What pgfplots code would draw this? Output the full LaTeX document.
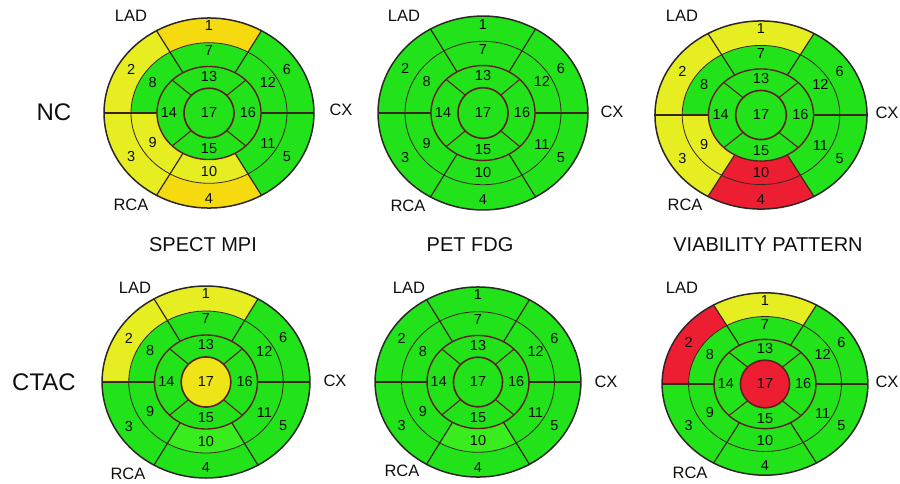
\documentclass[border=0pt]{standalone}
\usepackage{pgfplots}
\pgfplotsset{compat=1.18}
\usepackage{fontspec}
\setmainfont{Liberation Sans}

% status colours: 0 normal, 1 mild (lime yellow), 2 moderate (gold), 3 severe/scar (red), 4 light green, 5 yellow-gold
\definecolor{st0}{RGB}{34,226,26}
\definecolor{st1}{RGB}{230,238,34}
\definecolor{st2}{RGB}{244,218,14}
\definecolor{st3}{RGB}{238,30,50}
\definecolor{st4}{RGB}{56,236,30}
\definecolor{st5}{RGB}{238,228,24}
\definecolor{olin}{RGB}{45,38,38}
\definecolor{rlin}{RGB}{96,30,32}
\definecolor{tlin}{RGB}{58,36,30}
\definecolor{txt}{RGB}{15,15,12}

\newcommand{\setA}[9]{\colorlet{#1s1}{st#2}\colorlet{#1s2}{st#3}\colorlet{#1s3}{st#4}\colorlet{#1s4}{st#5}\colorlet{#1s5}{st#6}\colorlet{#1s6}{st#7}\colorlet{#1s7}{st#8}\colorlet{#1s8}{st#9}}
\newcommand{\setB}[9]{\colorlet{#1s9}{st#2}\colorlet{#1s10}{st#3}\colorlet{#1s11}{st#4}\colorlet{#1s12}{st#5}\colorlet{#1s13}{st#6}\colorlet{#1s14}{st#7}\colorlet{#1s15}{st#8}\colorlet{#1s16}{st#9}}
\newcommand{\setC}[2]{\colorlet{#1s17}{st#2}}

% segment status per polar map (segments 1..17)
\setA{TL}{2}{1}{1}{2}{0}{0}{0}{0}
\setB{TL}{1}{1}{0}{0}{0}{0}{0}{0}
\setC{TL}{0}
\setA{TM}{0}{0}{0}{0}{0}{0}{0}{0}
\setB{TM}{0}{0}{0}{0}{0}{0}{0}{0}
\setC{TM}{0}
\setA{TR}{1}{1}{1}{3}{0}{0}{0}{0}
\setB{TR}{1}{3}{0}{0}{0}{0}{0}{0}
\setC{TR}{0}
\setA{BL}{1}{1}{0}{0}{0}{0}{0}{0}
\setB{BL}{0}{4}{0}{0}{0}{0}{0}{0}
\setC{BL}{5}
\setA{BM}{0}{0}{0}{0}{0}{0}{0}{0}
\setB{BM}{0}{4}{0}{0}{0}{0}{0}{0}
\setC{BM}{0}
\setA{BR}{1}{3}{0}{0}{0}{0}{0}{0}
\setB{BR}{0}{0}{0}{0}{0}{0}{0}{0}
\setC{BR}{3}

% annular sector: cx cy rxo ryo rxi ryi a1 a2 colour
\newcommand{\seg}[9]{%
\addplot[fill=#9, draw=none, domain=0:40, samples=41, variable=\s]
 ({#1 + ((\s<20.5)*(#3) + (\s>20.5)*(#5))*cos((\s<20.5)*((#7)+\s*((#8)-(#7))/20) + (\s>20.5)*((#8)-(\s-21)*((#8)-(#7))/19))},
  {#2 - ((\s<20.5)*(#4) + (\s>20.5)*(#6))*sin((\s<20.5)*((#7)+\s*((#8)-(#7))/20) + (\s>20.5)*((#8)-(\s-21)*((#8)-(#7))/19))});
}
% ellipse outline: cx cy rx ry style
\newcommand{\ellp}[5]{%
\addplot[#5, domain=0:360, samples=121] ({#1+(#3)*cos(x)},{#2-(#4)*sin(x)});
}
% radial line: cx cy rxi ryi rxo ryo angle style
\newcommand{\rad}[8]{%
\addplot[#8, domain=0:1, samples=2] ({#1+((#3)+x*((#5)-(#3)))*cos(#7)},{#2-((#4)+x*((#6)-(#4)))*sin(#7)});
}
% segment number: cx cy sx sy rx ry angle text
\newcommand{\lab}[8]{%
\node[font=\fontsize{14.5}{14.5}\selectfont, text=txt, inner sep=0pt] at (axis cs:{#1+(#5)*(#3)*cos(#7)},{#2-(#6)*(#4)*sin(#7)}) {#8};
}

% polar map: cx cy sx sy prefix
\newcommand{\bullseye}[5]{%
 \seg{#1}{#2}{105*#3}{96*#4}{78*#3}{71*#4}{60}{120}{#5s1}
 \seg{#1}{#2}{105*#3}{96*#4}{78*#3}{71*#4}{120}{180}{#5s2}
 \seg{#1}{#2}{105*#3}{96*#4}{78*#3}{71*#4}{180}{240}{#5s3}
 \seg{#1}{#2}{105*#3}{96*#4}{78*#3}{71*#4}{240}{300}{#5s4}
 \seg{#1}{#2}{105*#3}{96*#4}{78*#3}{71*#4}{300}{360}{#5s5}
 \seg{#1}{#2}{105*#3}{96*#4}{78*#3}{71*#4}{0}{60}{#5s6}
 \seg{#1}{#2}{78*#3}{71*#4}{52*#3}{47*#4}{60}{120}{#5s7}
 \seg{#1}{#2}{78*#3}{71*#4}{52*#3}{47*#4}{120}{180}{#5s8}
 \seg{#1}{#2}{78*#3}{71*#4}{52*#3}{47*#4}{180}{240}{#5s9}
 \seg{#1}{#2}{78*#3}{71*#4}{52*#3}{47*#4}{240}{300}{#5s10}
 \seg{#1}{#2}{78*#3}{71*#4}{52*#3}{47*#4}{300}{360}{#5s11}
 \seg{#1}{#2}{78*#3}{71*#4}{52*#3}{47*#4}{0}{60}{#5s12}
 \seg{#1}{#2}{52*#3}{47*#4}{25*#3}{25*#4}{45}{135}{#5s13}
 \seg{#1}{#2}{52*#3}{47*#4}{25*#3}{25*#4}{135}{225}{#5s14}
 \seg{#1}{#2}{52*#3}{47*#4}{25*#3}{25*#4}{225}{315}{#5s15}
 \seg{#1}{#2}{52*#3}{47*#4}{25*#3}{25*#4}{-45}{45}{#5s16}
 \addplot[fill=#5s17, draw=none, domain=0:360, samples=91] ({#1+25*#3*cos(x)},{#2-25*#4*sin(x)});
 \rad{#1}{#2}{52*#3}{47*#4}{105*#3}{96*#4}{0}{draw=tlin, line width=1.2pt}
 \rad{#1}{#2}{52*#3}{47*#4}{105*#3}{96*#4}{60}{draw=tlin, line width=1.2pt}
 \rad{#1}{#2}{52*#3}{47*#4}{105*#3}{96*#4}{120}{draw=tlin, line width=1.2pt}
 \rad{#1}{#2}{52*#3}{47*#4}{105*#3}{96*#4}{180}{draw=tlin, line width=1.2pt}
 \rad{#1}{#2}{52*#3}{47*#4}{105*#3}{96*#4}{240}{draw=tlin, line width=1.2pt}
 \rad{#1}{#2}{52*#3}{47*#4}{105*#3}{96*#4}{300}{draw=tlin, line width=1.2pt}
 \rad{#1}{#2}{25*#3}{25*#4}{52*#3}{47*#4}{45}{draw=rlin, line width=1.1pt}
 \rad{#1}{#2}{25*#3}{25*#4}{52*#3}{47*#4}{135}{draw=rlin, line width=1.1pt}
 \rad{#1}{#2}{25*#3}{25*#4}{52*#3}{47*#4}{225}{draw=rlin, line width=1.1pt}
 \rad{#1}{#2}{25*#3}{25*#4}{52*#3}{47*#4}{315}{draw=rlin, line width=1.1pt}
 \ellp{#1}{#2}{78*#3}{71*#4}{draw=tlin, line width=0.8pt}
 \ellp{#1}{#2}{52*#3}{47*#4}{draw=rlin, line width=1.4pt}
 \ellp{#1}{#2}{25*#3}{25*#4}{draw=rlin, line width=1.6pt}
 \ellp{#1}{#2}{105*#3}{96*#4}{draw=olin, line width=1.5pt}
 \lab{#1}{#2}{#3}{#4}{0}{88}{90}{1}
 \lab{#1}{#2}{#3}{#4}{90}{88}{150}{2}
 \lab{#1}{#2}{#3}{#4}{90}{88}{210}{3}
 \lab{#1}{#2}{#3}{#4}{0}{86}{270}{4}
 \lab{#1}{#2}{#3}{#4}{90}{88}{330}{5}
 \lab{#1}{#2}{#3}{#4}{90}{88}{30}{6}
 \lab{#1}{#2}{#3}{#4}{0}{63}{90}{7}
 \lab{#1}{#2}{#3}{#4}{65}{62}{150}{8}
 \lab{#1}{#2}{#3}{#4}{65}{60}{210}{9}
 \lab{#1}{#2}{#3}{#4}{0}{59}{270}{10}
 \lab{#1}{#2}{#3}{#4}{68}{62}{330}{11}
 \lab{#1}{#2}{#3}{#4}{68}{62}{30}{12}
 \lab{#1}{#2}{#3}{#4}{0}{37}{90}{13}
 \lab{#1}{#2}{#3}{#4}{40}{0}{180}{14}
 \lab{#1}{#2}{#3}{#4}{0}{36}{270}{15}
 \lab{#1}{#2}{#3}{#4}{39}{0}{0}{16}
 \lab{#1}{#2}{#3}{#4}{0}{0}{0}{17}
}

\begin{document}
\begin{tikzpicture}
\begin{axis}[width=900pt, height=483pt, scale only axis,
  xmin=0, xmax=900, ymin=0, ymax=483, y dir=reverse,
  axis lines=none, clip=false]
\path (axis cs:0,0) rectangle (axis cs:900,483);
\bullseye{209}{113}{1.00}{0.99}{TL}
\bullseye{483}{113}{1.00}{1.01}{TM}
\bullseye{761}{115}{1.01}{0.98}{TR}
\bullseye{206}{382}{0.99}{1.00}{BL}
\bullseye{478}{382}{0.98}{0.99}{BM}
\bullseye{765}{384}{0.98}{0.95}{BR}

\begin{scope}[every node/.style={text=txt, inner sep=0pt}]
\node[font=\fontsize{24}{24}\selectfont] at (axis cs:54,112) {NC};
\node[font=\fontsize{24}{24}\selectfont] at (axis cs:44,382) {CTAC};
\node[font=\fontsize{20}{20}\selectfont] at (axis cs:203,244.5) {SPECT MPI};
\node[font=\fontsize{20}{20}\selectfont] at (axis cs:470,244.5) {PET FDG};
\node[font=\fontsize{20}{20}\selectfont] at (axis cs:768,244.5) {VIABILITY PATTERN};
\node[font=\fontsize{16.5}{16.5}\selectfont] at (axis cs:131,16) {LAD};
\node[font=\fontsize{16.5}{16.5}\selectfont] at (axis cs:131,205) {RCA};
\node[font=\fontsize{16.5}{16.5}\selectfont] at (axis cs:341,110) {CX};
\node[font=\fontsize{16.5}{16.5}\selectfont] at (axis cs:404,16) {LAD};
\node[font=\fontsize{16.5}{16.5}\selectfont] at (axis cs:408,206) {RCA};
\node[font=\fontsize{16.5}{16.5}\selectfont] at (axis cs:612,112) {CX};
\node[font=\fontsize{16.5}{16.5}\selectfont] at (axis cs:682,16) {LAD};
\node[font=\fontsize{16.5}{16.5}\selectfont] at (axis cs:685,205) {RCA};
\node[font=\fontsize{16.5}{16.5}\selectfont] at (axis cs:887,113) {CX};
\node[font=\fontsize{16.5}{16.5}\selectfont] at (axis cs:135,288) {LAD};
\node[font=\fontsize{16.5}{16.5}\selectfont] at (axis cs:128,474) {RCA};
\node[font=\fontsize{16.5}{16.5}\selectfont] at (axis cs:335,381) {CX};
\node[font=\fontsize{16.5}{16.5}\selectfont] at (axis cs:409,288) {LAD};
\node[font=\fontsize{16.5}{16.5}\selectfont] at (axis cs:402,471) {RCA};
\node[font=\fontsize{16.5}{16.5}\selectfont] at (axis cs:606,382) {CX};
\node[font=\fontsize{16.5}{16.5}\selectfont] at (axis cs:682,288) {LAD};
\node[font=\fontsize{16.5}{16.5}\selectfont] at (axis cs:690,473) {RCA};
\node[font=\fontsize{16.5}{16.5}\selectfont] at (axis cs:887,382) {CX};
\end{scope}
\end{axis}
\end{tikzpicture}
\end{document}
